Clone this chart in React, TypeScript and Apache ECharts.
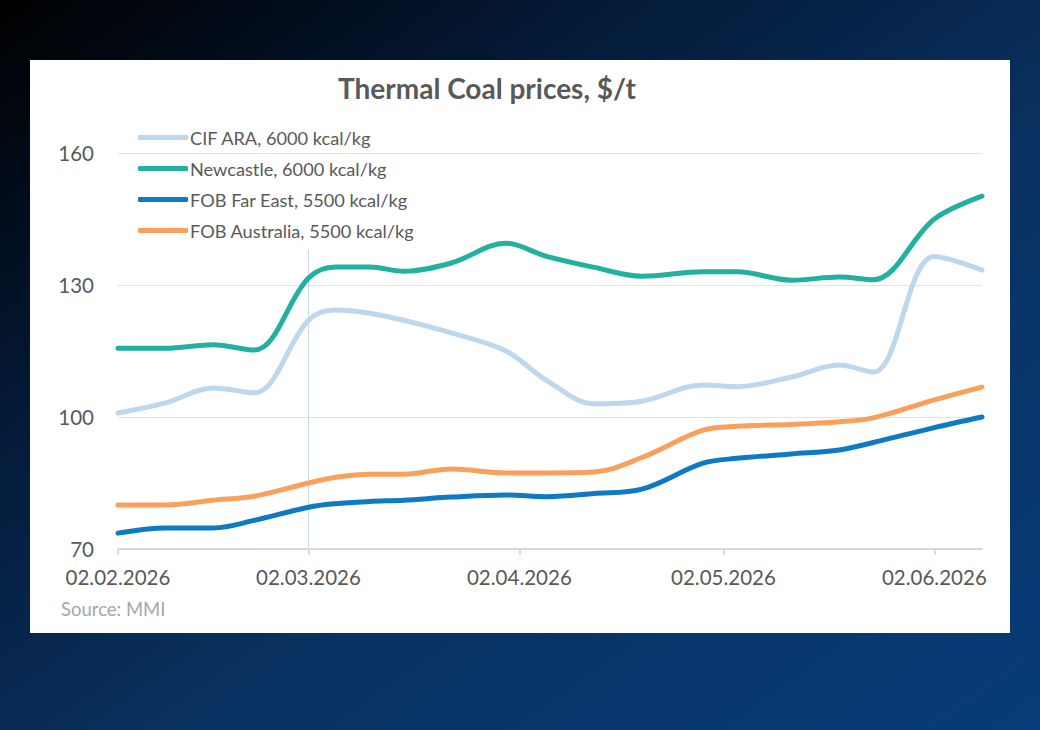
import React, { useEffect, useRef } from "react";
import * as echarts from "echarts";

// Observation dates of the weekly-ish price assessments
const pointDates = [
  "02.02.2026", "09.02.2026", "16.02.2026", "22.02.2026", "02.03.2026",
  "06.03.2026", "11.03.2026", "16.03.2026", "23.03.2026", "31.03.2026",
  "06.04.2026", "13.04.2026", "20.04.2026", "29.04.2026", "04.05.2026",
  "12.05.2026", "19.05.2026", "24.05.2026", "02.06.2026", "09.06.2026",
];

const cifAra = [
  100.9, 103.2, 106.6, 105.5, 122.0, 124.3, 123.6, 122.0, 119.1, 115.0,
  108.3, 103.0, 103.6, 107.3, 106.9, 109.1, 111.8, 110.2, 136.5, 133.4,
];
const newcastle = [
  115.6, 115.6, 116.4, 115.2, 131.6, 134.1, 134.1, 133.1, 135.0, 139.5,
  136.5, 134.0, 132.0, 133.0, 133.0, 131.1, 131.8, 131.2, 145.0, 150.2,
];
const fobFarEast = [
  73.6, 74.8, 74.8, 76.5, 79.5, 80.3, 80.8, 81.1, 81.8, 82.3,
  81.9, 82.6, 83.6, 89.5, 90.6, 91.6, 92.5, 94.2, 97.6, 100.0,
];
const fobAustralia = [
  80.0, 80.0, 81.1, 82.0, 85.0, 86.3, 87.0, 87.0, 88.2, 87.3,
  87.3, 87.5, 90.8, 97.0, 97.9, 98.3, 98.9, 99.8, 103.9, 106.8,
];

const seriesNames = [
  "CIF ARA, 6000 kcal/kg",
  "Newcastle, 6000 kcal/kg",
  "FOB Far East, 5500 kcal/kg",
  "FOB Australia, 5500 kcal/kg",
];
const seriesColors = ["#bdd7ee", "#22b0a1", "#0e7ac4", "#f9a05c"];

const tickLabels = ["02.02.2026", "02.03.2026", "02.04.2026", "02.05.2026", "02.06.2026"];
const yTicks = [70, 100, 130, 160];
const markerDate = "02.03.2026";

const fmt = (d: Date) => {
  const dd = String(d.getUTCDate()).padStart(2, "0");
  const mm = String(d.getUTCMonth() + 1).padStart(2, "0");
  return `${dd}.${mm}.${d.getUTCFullYear()}`;
};

// Daily category axis spanning the first to the last observation
const buildDays = () => {
  const out: string[] = [];
  const start = Date.UTC(2026, 1, 2);
  const end = Date.UTC(2026, 5, 9);
  for (let t = start; t <= end; t += 86400000) out.push(fmt(new Date(t)));
  return out;
};

const FONT = "Lato, 'Open Sans', sans-serif";

export default function App() {
  const ref = useRef<HTMLDivElement>(null);

  useEffect(() => {
    if (!ref.current) return;
    document.body.style.margin = "0";
    const chart = echarts.init(ref.current, undefined, { renderer: "svg" });
    const days = buildDays();
    const toPairs = (vals: number[]) =>
      pointDates.map((d, i) => [days.indexOf(d), vals[i]]);
    const allValues = [cifAra, newcastle, fobFarEast, fobAustralia];
    const markIdx = days.indexOf(markerDate);

    const series: any[] = allValues.map((vals, i) => ({
      name: seriesNames[i],
      type: "line",
      data: toPairs(vals),
      smooth: 0.35,
      showSymbol: false,
      symbol: "none",
      lineStyle: { color: seriesColors[i], width: 5, cap: "round", join: "round" },
      itemStyle: { color: seriesColors[i] },
      z: 3 + i,
    }));
    series[1].markLine = {
      silent: true,
      symbol: "none",
      label: { show: false },
      lineStyle: { color: "#c8dbe4", width: 1, type: "solid" },
      data: [[{ coord: [markIdx, 70] }, { coord: [markIdx, 138] }]],
      z: 1,
    };

    chart.setOption({
      animation: false,
      backgroundColor: new echarts.graphic.LinearGradient(0, 0, 1, 1, [
        { offset: 0, color: "#000000" },
        { offset: 0.3, color: "#041a38" },
        { offset: 0.6, color: "#0a3262" },
        { offset: 1, color: "#073c7a" },
      ]),
      graphic: [
        {
          type: "rect",
          z: -10,
          shape: { x: 30, y: 60, width: 980, height: 573 },
          style: { fill: "#ffffff" },
        },
        {
          type: "text",
          x: 487,
          y: 88,
          style: {
            text: "Thermal Coal prices, $/t",
            fill: "#595959",
            font: `bold 28px ${FONT}`,
            textAlign: "center",
            textVerticalAlign: "middle",
          },
        },
        {
          type: "text",
          x: 61,
          y: 609,
          style: {
            text: "Source: MMI",
            fill: "#a6a6a6",
            font: `18.5px ${FONT}`,
            textAlign: "left",
            textVerticalAlign: "middle",
          },
        },
      ],
      legend: {
        orient: "vertical",
        left: 133,
        top: 122,
        itemWidth: 50,
        itemHeight: 5,
        itemGap: 10,
        icon: "roundRect",
        data: seriesNames,
        textStyle: {
          color: "#595959",
          fontFamily: FONT,
          fontSize: 18.2,
          lineHeight: 21,
          padding: [0, 0, 0, -3],
        },
      },
      grid: { left: 118, right: 58, top: 153, bottom: 181, containLabel: false },
      xAxis: {
        type: "category",
        data: days,
        boundaryGap: false,
        axisLine: { show: true, lineStyle: { color: "#d0d0d0", width: 1.5 } },
        axisTick: {
          show: true,
          interval: (_i: number, v: string) => tickLabels.includes(v),
          length: 6,
          lineStyle: { color: "#d0d0d0", width: 1.5 },
        },
        axisLabel: {
          interval: (_i: number, v: string) => tickLabels.includes(v),
          color: "#595959",
          fontFamily: FONT,
          fontSize: 20.5,
          margin: 17,
        },
        splitLine: { show: false },
      },
      yAxis: {
        type: "value",
        min: yTicks[0],
        max: yTicks[yTicks.length - 1],
        interval: yTicks[1] - yTicks[0],
        axisLine: { show: false },
        axisTick: { show: false },
        axisLabel: {
          color: "#595959",
          fontFamily: FONT,
          fontSize: 20.5,
          margin: 24,
        },
        splitLine: { show: true, lineStyle: { color: "#e3e3e3", width: 1 } },
      },
      series,
    });

    return () => chart.dispose();
  }, []);

  return (
    <div
      ref={ref}
      style={{ position: "fixed", left: 0, top: 0, width: 1040, height: 730 }}
    />
  );
}
